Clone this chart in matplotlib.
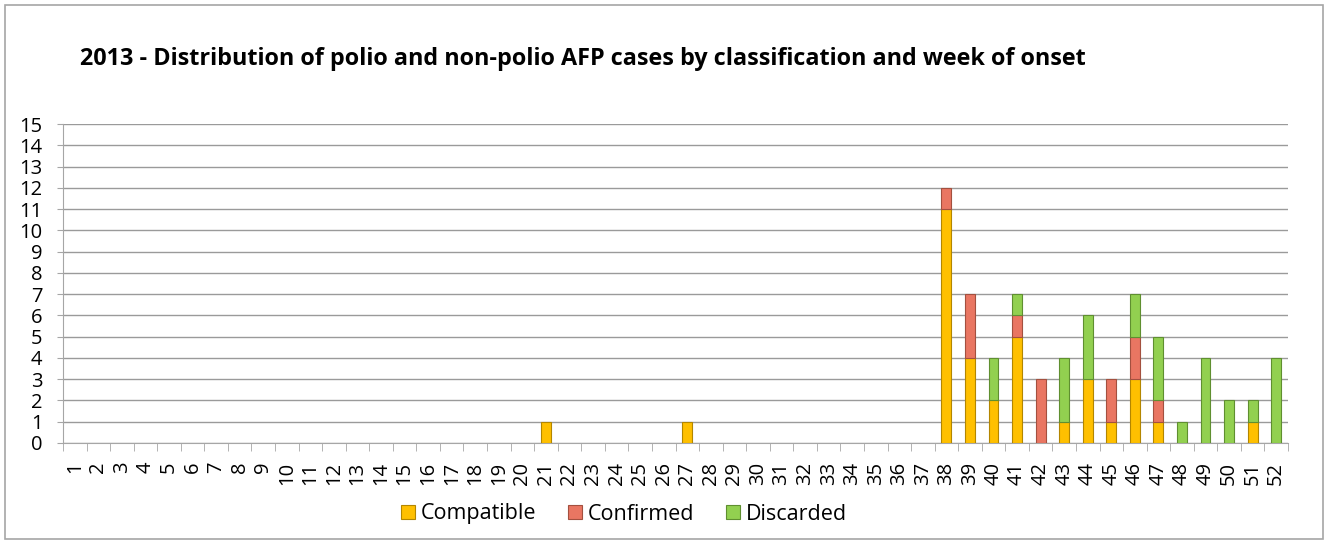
import numpy as np
import matplotlib.pyplot as plt
from matplotlib.patches import Rectangle

plt.rcParams['font.family'] = ['Open Sans', 'DejaVu Sans']

weeks = list(range(1, 53))
compatible = {21: 1, 27: 1, 38: 11, 39: 4, 40: 2, 41: 5, 43: 1, 44: 3, 45: 1,
              46: 3, 47: 1, 51: 1}
confirmed = {38: 1, 39: 3, 41: 1, 42: 3, 45: 2, 46: 2, 47: 1}
discarded = {40: 2, 41: 1, 43: 3, 44: 3, 46: 2, 47: 3, 48: 1, 49: 4, 50: 2,
             51: 1, 52: 4}

comp = np.array([compatible.get(w, 0) for w in weeks])
conf = np.array([confirmed.get(w, 0) for w in weeks])
disc = np.array([discarded.get(w, 0) for w in weeks])

W, H = 1327, 544
fig = plt.figure(figsize=(W / 100, H / 100), dpi=100)
# outer chart border
fig.patches.append(Rectangle((5 / W, 5 / H), 1318 / W, 534 / H, transform=fig.transFigure,
                             fill=False, edgecolor='#a6a6a6', linewidth=1.2))
ax = fig.add_axes([63 / W, 1 - 443 / H, 1225 / W, 319 / H])

x = np.arange(len(weeks))
w = 0.42
series = [(comp, 'Compatible', '#FFC000', '#b38600'),
          (conf, 'Confirmed', '#E97662', '#a3503f'),
          (disc, 'Discarded', '#92D050', '#5f8f30')]
bottom = np.zeros(len(weeks))
for vals, name, fc, ec in series:
    m = vals > 0  # skip empty segments so no stray edges are drawn
    ax.bar(x[m], vals[m], w, bottom=bottom[m], color=fc, edgecolor=ec,
           linewidth=0.8, label=name, zorder=3)
    bottom = bottom + vals

ax.set_xlim(-0.5, len(weeks) - 0.5)
ax.set_ylim(0, 15)
ax.set_yticks(range(0, 16))
ax.set_yticklabels([str(i) for i in range(0, 16)], fontsize=14.5)
ax.set_xticks(x)
ax.set_xticklabels([str(wk) for wk in weeks], rotation=90, fontsize=14.5)
ax.set_xticks(np.arange(-0.5, len(weeks), 1), minor=True)
ax.tick_params(axis='x', which='major', length=0, pad=13.5)
ax.tick_params(axis='x', which='minor', length=5.8, color='#a6a6a6', direction='out')
ax.tick_params(axis='y', length=4.3, color='#a6a6a6', pad=10.5)

ax.grid(axis='y', color='#9a9a9a', linewidth=1, zorder=0)
for s in ['top', 'right']:
    ax.spines[s].set_visible(False)
for s in ['left', 'bottom']:
    ax.spines[s].set_color('#a6a6a6')

fig.text(80 / W, 1 - 65 / H,
         '2013 - Distribution of polio and non-polio AFP cases by classification and week of onset',
         fontsize=16.8, fontweight='bold', ha='left', va='baseline')

fig.legend(loc='center left', bbox_to_anchor=(401 / W, 1 - 514 / H), ncol=3, frameon=False,
           fontsize=15.5, handlelength=0.65, handleheight=0.65, handletextpad=0.25,
           columnspacing=1.5, borderpad=0, borderaxespad=0)

fig.savefig('out.png', dpi=100)
